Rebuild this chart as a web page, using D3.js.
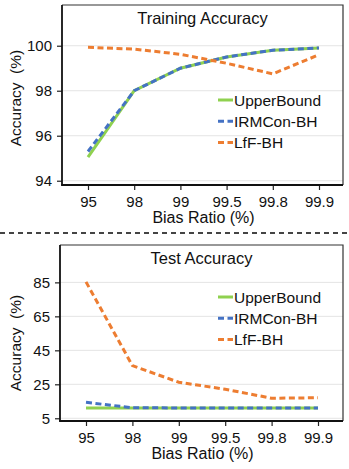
<!DOCTYPE html>
<html><head><meta charset="utf-8">
<script src="https://cdn.jsdelivr.net/npm/d3@7"></script>
<style>body{margin:0;background:#fff}svg{display:block;font-family:"Liberation Sans",Arial,sans-serif}</style>
</head><body>
<svg id="c" width="349" height="469"></svg>
<script>
const categories = ["95","98","99","99.5","99.8","99.9"];
const seriesNames = ["UpperBound","IRMCon-BH","LfF-BH"];
const trainUpperBound = [95.05, 98.0, 99.0, 99.5, 99.8, 99.9];
const trainIRMCon = [95.3, 98.0, 99.0, 99.5, 99.8, 99.9];
const trainLfF = [99.93, 99.85, 99.62, 99.22, 98.75, 99.6];
const trainTicks = [94, 96, 98, 100];
const testUpperBound = [11, 11, 11, 11, 11, 11];
const testIRMCon = [14.4, 11.2, 11.1, 11.1, 11.1, 11.1];
const testLfF = [85.3, 36, 26.2, 22.1, 16.8, 17.1];
const testTicks = [5, 25, 45, 65, 85];

const colors = ["#8fd14f", "#4472c4", "#ed7d31"];
const svg = d3.select("#c");

function panel(o) {
  const g = svg.append("g");
  const x = d3.scalePoint().domain(categories).range([o.x0, o.x1]);
  const y = d3.scaleLinear().domain(o.domain).range([o.bottom, o.top]);
  g.selectAll(".grid").data(o.ticks).enter().append("line")
    .attr("x1", o.left).attr("x2", o.right)
    .attr("y1", d => y(d)).attr("y2", d => y(d))
    .attr("stroke", "#e4e4e4").attr("stroke-width", 1);
  g.append("path").attr("d", `M${o.left},${o.top}H${o.right}V${o.bottom}`)
    .attr("fill", "none").attr("stroke", "#333").attr("stroke-width", 1.2);
  const ya = g.append("g").attr("transform", `translate(${o.left},0)`)
    .call(d3.axisLeft(y).tickValues(o.ticks).tickSize(5).tickPadding(5));
  const xa = g.append("g").attr("transform", `translate(0,${o.bottom})`)
    .call(d3.axisBottom(x).tickSize(5).tickPadding(6));
  [ya, xa].forEach(a => {
    a.select(".domain").remove();
    a.selectAll("line").attr("stroke", "#222").attr("stroke-width", 1.2);
    a.selectAll("text").attr("font-size", 15).attr("fill", "#111")
      .attr("font-family", "Liberation Sans, Arial, sans-serif");
  });
  g.append("line").attr("x1", o.left).attr("x2", o.left).attr("y1", o.top).attr("y2", o.bottom + 0.8)
    .attr("stroke", "#111").attr("stroke-width", 1.8);
  g.append("line").attr("x1", o.left - 0.8).attr("x2", o.right).attr("y1", o.bottom).attr("y2", o.bottom)
    .attr("stroke", "#111").attr("stroke-width", 1.8);
  const line = d3.line().x((d, i) => x(categories[i])).y(d => y(d));
  o.series.forEach((s, k) => {
    g.append("path").datum(s).attr("d", line).attr("fill", "none")
      .attr("stroke", colors[k]).attr("stroke-width", 3)
      .attr("stroke-dasharray", k === 0 ? null : "6,3.5");
  });
  g.append("text").attr("x", (o.left + o.right) / 2).attr("y", o.top + 19)
    .attr("text-anchor", "middle").attr("font-size", 16.5).attr("fill", "#111").text(o.title);
  seriesNames.forEach((n, k) => {
    const ly = o.legY + k * 21.3;
    g.append("line").attr("x1", 218).attr("x2", 233).attr("y1", ly).attr("y2", ly)
      .attr("stroke", colors[k]).attr("stroke-width", 3)
      .attr("stroke-dasharray", k === 0 ? null : "6,3.5");
    g.append("text").attr("x", 234).attr("y", ly + 5.5).attr("font-size", 15.5)
      .attr("fill", "#111").text(n);
  });
  g.append("text").attr("x", (o.left + o.right) / 2 + 1).attr("y", o.bottom + 38)
    .attr("text-anchor", "middle").attr("font-size", 16).attr("fill", "#111").text("Bias Ratio (%)");
  g.append("text").attr("transform", `translate(21,${o.ylabC}) rotate(-90)`)
    .attr("text-anchor", "middle").attr("font-size", 15.5).attr("fill", "#111")
    .attr("xml:space", "preserve").style("white-space", "pre").text("Accuracy  (%)");
}

panel({left: 62, right: 343, top: 5, bottom: 185, x0: 88, x1: 319,
  domain: [93.81, 101.81], ticks: trainTicks, series: [trainUpperBound, trainIRMCon, trainLfF],
  title: "Training Accuracy", legY: 100, ylabC: 98});

svg.append("line").attr("x1", 0).attr("x2", 349).attr("y1", 233).attr("y2", 233)
  .attr("stroke", "#444").attr("stroke-width", 2).attr("stroke-dasharray", "5,4");

panel({left: 60, right: 343, top: 245, bottom: 421, x0: 86, x1: 318,
  domain: [3.4, 107], ticks: testTicks, series: [testUpperBound, testIRMCon, testLfF],
  title: "Test Accuracy", legY: 297, ylabC: 343});
</script>
</body></html>
